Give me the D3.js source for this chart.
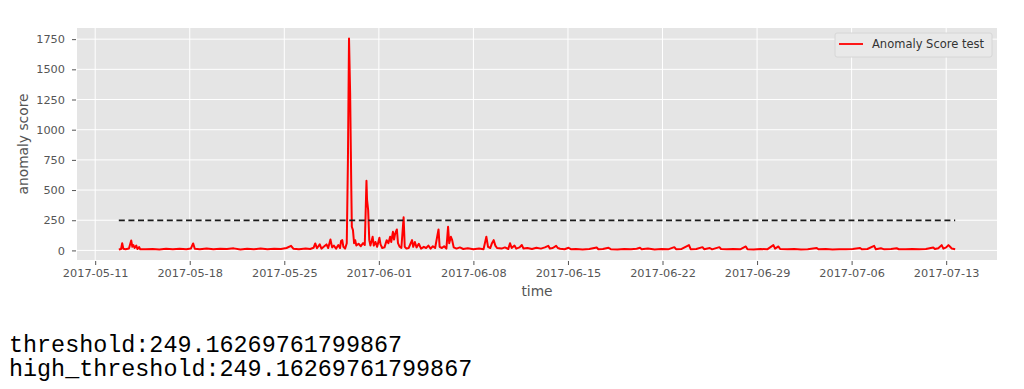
<!DOCTYPE html>
<html lang="en">

<head>
    <meta charset="UTF-8">
    <script src="https://d3js.org/d3.v7.min.js"></script>
    <title>Anomaly Score</title>
    <style>
        body {
            margin: 0;
            background: #fff;
        }

        .grid-line {
            stroke: #fff;
            stroke-width: 1px;
        }

        .tick-label {
            font-family: "DejaVu Sans", sans-serif;
            font-size: 11.3px;
            fill: #555;
        }

        .axis-title {
            font-family: "DejaVu Sans", sans-serif;
            font-size: 13.8px;
            fill: #555;
        }

        .out-text {
            font-family: "Liberation Mono", "DejaVu Sans Mono", monospace;
            font-size: 23.4px;
            fill: #000;
        }
    </style>
</head>

<body>
    <div id="chart"></div>
    <script>
        // start of the series, hours are counted from here
        var startDate = new Date(2017, 4, 12, 18, 0);

        // hours after startDate
        var hours = [
            0, 4, 6, 8, 12, 18, 22, 24, 26, 28, 31, 33, 36, 38, 48, 60, 72, 84, 96, 108,
            120, 128, 132, 135, 144, 156, 168, 180, 192, 204, 216, 228, 240, 252, 264, 276, 288, 298, 306, 310,
            320, 332, 340, 346, 349, 352, 357, 360, 364, 369, 372, 376, 379, 382, 386, 390, 393, 395, 397, 399,
            402, 405, 407, 409, 411, 413, 414, 416, 418, 420, 422, 426, 430, 434, 437, 440, 441, 443, 445, 447,
            451, 453, 456, 459, 463, 465, 468, 472, 476, 479, 482, 484, 487, 489, 491, 494, 496, 499, 502, 506,
            508, 511, 515, 521, 523, 526, 529, 533, 537, 542, 546, 550, 554, 558, 562, 568, 570, 574, 578, 582,
            585, 587, 590, 592, 595, 600, 606, 612, 620, 630, 640, 648, 653, 656, 660, 663, 666, 669, 672, 680,
            686, 692, 695, 698, 703, 706, 712, 716, 719, 726, 734, 742, 750, 757, 763, 766, 771, 777, 780, 784,
            792, 799, 803, 812, 824, 836, 849, 852, 860, 870, 874, 886, 898, 910, 920, 926, 929, 940, 952, 964,
            976, 987, 990, 1000, 1013, 1016, 1026, 1037, 1040, 1050, 1054, 1067, 1070, 1080, 1092, 1104, 1114, 1117, 1128, 1140,
            1152, 1163, 1166, 1172, 1175, 1188, 1200, 1212, 1224, 1240, 1243, 1256, 1268, 1280, 1292, 1304, 1317, 1320, 1330, 1342,
            1345, 1354, 1360, 1372, 1382, 1386, 1398, 1410, 1422, 1434, 1447, 1450, 1456, 1462, 1465, 1470, 1474, 1477, 1480, 1484,
            1486
        ];

        // anomaly score at each hour
        var scores = [
            8, 12, 60, 14, 10, 16, 82, 30, 45, 20, 40, 12, 28, 10, 9, 12, 8, 13, 10, 14,
            9, 15, 58, 14, 10, 16, 9, 14, 11, 17, 8, 13, 10, 15, 9, 14, 12, 20, 38, 14,
            10, 16, 12, 22, 58, 18, 50, 15, 30, 50, 20, 91, 25, 40, 15, 45, 20, 80, 85, 30,
            15, 60, 722, 1755, 1300, 528, 196, 168, 60, 85, 40, 55, 35, 60, 45, 577, 420, 334, 85, 40,
            113, 40, 70, 30, 105, 50, 20, 25, 85, 60, 113, 70, 154, 90, 140, 174, 60, 30, 20, 274,
            30, 15, 20, 85, 30, 70, 25, 55, 15, 30, 20, 40, 15, 35, 20, 174, 30, 20, 35, 15,
            196, 60, 113, 90, 25, 15, 25, 12, 18, 10, 16, 10, 113, 30, 20, 60, 85, 40, 20, 15,
            25, 12, 60, 20, 40, 15, 25, 45, 15, 20, 12, 22, 15, 25, 38, 15, 20, 38, 20, 14,
            10, 22, 10, 12, 8, 12, 25, 10, 12, 22, 10, 8, 12, 9, 14, 22, 10, 15, 8, 12,
            9, 27, 10, 12, 44, 10, 12, 27, 10, 20, 9, 27, 12, 9, 12, 9, 33, 10, 8, 12,
            9, 44, 15, 33, 12, 9, 12, 8, 10, 20, 9, 12, 8, 10, 9, 12, 20, 9, 12, 38,
            10, 18, 9, 12, 18, 10, 9, 12, 9, 12, 25, 12, 18, 44, 15, 25, 44, 30, 15, 12,
            10
        ];

        var threshold = 249.16269761799867;
        var highThreshold = 249.16269761799867;

        var yTicks = [0, 250, 500, 750, 1000, 1250, 1500, 1750];
        var xTickDates = ["2017-05-11", "2017-05-18", "2017-05-25", "2017-06-01", "2017-06-08",
            "2017-06-15", "2017-06-22", "2017-06-29", "2017-07-06", "2017-07-13"];

        var seriesName = "Anomaly Score test";

        var parseDay = d3.timeParse("%Y-%m-%d");
        var formatDay = d3.timeFormat("%Y-%m-%d");

        var datos = hours.map(function (h, i) {
            return { t: d3.timeHour.offset(startDate, h), v: scores[i] };
        });

        var width = 1024, height = 389;
        var plotLeft = 77, plotRight = 997, plotTop = 28, plotBottom = 260;

        var svg = d3.select("#chart")
            .append("svg")
            .attr("width", width)
            .attr("height", height);

        // matplotlib style 5% margins round the data
        var tExtent = d3.extent(datos, function (d) { return d.t; });
        var tPad = (tExtent[1] - tExtent[0]) * 0.05;
        var x = d3.scaleTime()
            .domain([new Date(+tExtent[0] - tPad), new Date(+tExtent[1] + tPad)])
            .range([plotLeft, plotRight]);

        var vMin = d3.min(scores), vMax = d3.max(scores);
        var vPad = (vMax - vMin) * 0.05;
        var y = d3.scaleLinear()
            .domain([vMin - vPad, vMax + vPad])
            .range([plotBottom, plotTop]);

        // grey plot background
        svg.append("rect")
            .attr("x", plotLeft)
            .attr("y", plotTop)
            .attr("width", plotRight - plotLeft)
            .attr("height", plotBottom - plotTop)
            .attr("fill", "#e5e5e5");

        var xTicks = xTickDates.map(parseDay);

        // grid
        svg.append("g")
            .selectAll("line")
            .data(yTicks)
            .enter().append("line")
            .attr("class", "grid-line")
            .attr("x1", plotLeft)
            .attr("x2", plotRight)
            .attr("y1", function (d) { return y(d); })
            .attr("y2", function (d) { return y(d); });

        svg.append("g")
            .selectAll("line")
            .data(xTicks)
            .enter().append("line")
            .attr("class", "grid-line")
            .attr("x1", function (d) { return x(d); })
            .attr("x2", function (d) { return x(d); })
            .attr("y1", plotTop)
            .attr("y2", plotBottom);

        // axes
        var xAxis = d3.axisBottom(x)
            .tickValues(xTicks)
            .tickFormat(formatDay)
            .tickSize(4)
            .tickPadding(4);

        var yAxis = d3.axisLeft(y)
            .tickValues(yTicks)
            .tickFormat(d3.format("d"))
            .tickSize(4)
            .tickPadding(7);

        var gx = svg.append("g")
            .attr("transform", "translate(0," + (plotBottom + 1) + ")")
            .call(xAxis);

        var gy = svg.append("g")
            .attr("transform", "translate(" + (plotLeft - 1) + ",0)")
            .call(yAxis);

        [gx, gy].forEach(function (g) {
            g.select(".domain").remove();
            g.selectAll(".tick line").attr("stroke", "#555");
            g.selectAll(".tick text")
                .attr("class", "tick-label")
                .attr("fill", null);
        });

        // series
        var line = d3.line()
            .x(function (d) { return x(d.t); })
            .y(function (d) { return y(d.v); });

        svg.append("path")
            .datum(datos)
            .attr("d", line)
            .attr("fill", "none")
            .attr("stroke", "#ff0000")
            .attr("stroke-width", 2)
            .attr("stroke-linejoin", "round");

        // threshold
        svg.append("path")
            .datum([{ t: tExtent[0], v: threshold }, { t: tExtent[1], v: threshold }])
            .attr("d", line)
            .attr("fill", "none")
            .attr("stroke", "#1a1a1a")
            .attr("stroke-width", 1.8)
            .attr("stroke-dasharray", "6,3.6");

        // axis titles
        svg.append("text")
            .attr("class", "axis-title")
            .attr("x", (plotLeft + plotRight) / 2)
            .attr("y", 296)
            .attr("text-anchor", "middle")
            .text("time");

        svg.append("text")
            .attr("class", "axis-title")
            .attr("transform", "translate(28," + (plotTop + plotBottom) / 2 + ") rotate(-90)")
            .attr("text-anchor", "middle")
            .text("anomaly score");

        // legend
        var legend = svg.append("g")
            .attr("transform", "translate(835,33)");

        legend.append("rect")
            .attr("width", 157)
            .attr("height", 24)
            .attr("rx", 2)
            .attr("fill", "#e9e9e9")
            .attr("stroke", "#d6d6d6");

        legend.append("line")
            .attr("x1", 4)
            .attr("x2", 28)
            .attr("y1", 11)
            .attr("y2", 11)
            .attr("stroke", "#ff0000")
            .attr("stroke-width", 1.8);

        legend.append("text")
            .attr("x", 37)
            .attr("y", 15)
            .attr("font-family", "DejaVu Sans, sans-serif")
            .attr("font-size", "11.5px")
            .attr("fill", "#333")
            .text(seriesName);

        // printed output below the figure
        svg.append("text")
            .attr("class", "out-text")
            .attr("x", 9)
            .attr("y", 352)
            .text("threshold:" + threshold);

        svg.append("text")
            .attr("class", "out-text")
            .attr("x", 9)
            .attr("y", 376)
            .text("high_threshold:" + highThreshold);
    </script>
</body>

</html>
